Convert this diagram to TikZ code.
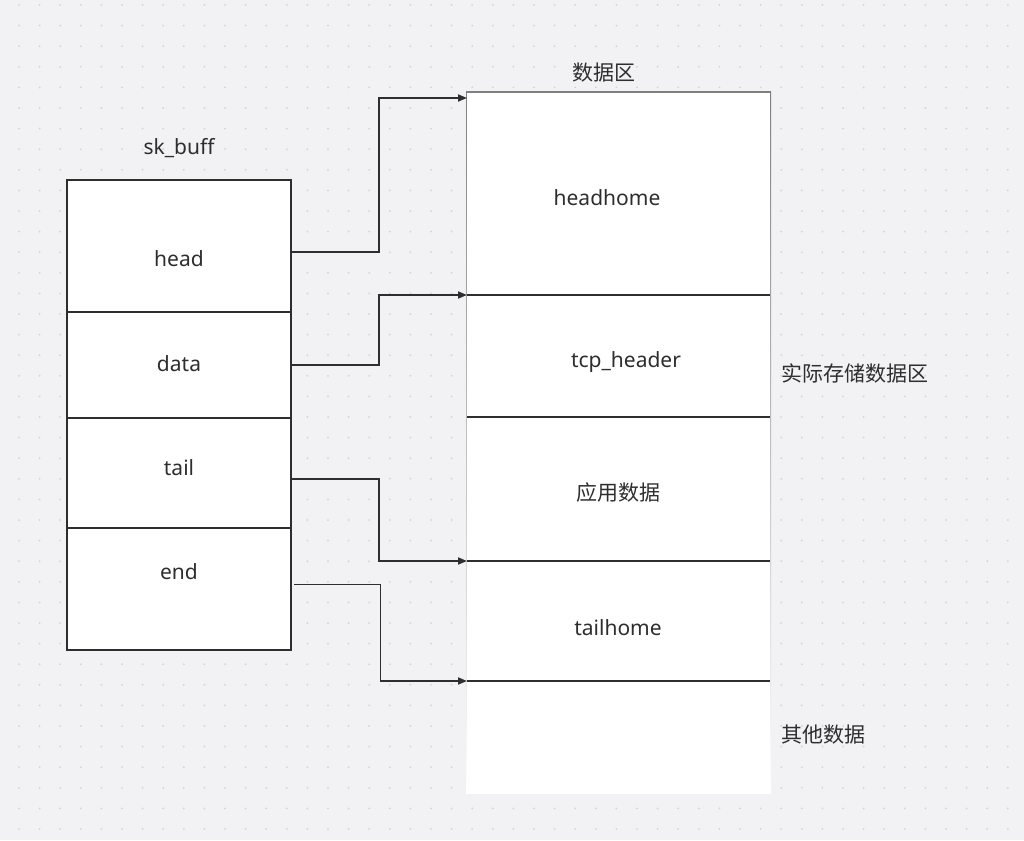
\documentclass[tikz,border=0pt]{standalone}
\usepackage{fontspec}
\setmainfont{Noto Sans}
\newfontfamily\cjk{Noto Sans CJK SC}
\usetikzlibrary{arrows.meta,calc}
\definecolor{bg}{HTML}{F2F2F4}
\definecolor{dotc}{HTML}{D4D4D8}
\definecolor{ink}{HTML}{2E2E2E}
\definecolor{shade}{HTML}{EAEAED}
\tikzset{
  cell/.style={draw=ink, line width=2pt, fill=white, minimum width=224pt, inner sep=0pt, outer sep=0pt},
  rcell/.style={fill=white, minimum width=303pt, inner sep=0pt, outer sep=0pt},
  txt/.style={text=ink, font=\fontsize{21}{25}\selectfont, inner sep=0pt},
  ctxt/.style={text=ink, font=\cjk\fontsize{21}{25}\selectfont, inner sep=0pt},
  divider/.style={draw=ink, line width=2.6pt},
  conn/.style={draw=ink, line width=1.7pt, -{Triangle[length=9pt,width=7pt]}},
}
\begin{document}
\begin{tikzpicture}[x=1pt,y=-1pt]
\useasboundingbox (0,0) rectangle (1024,840);
\fill[bg] (0,0) rectangle (1024,840);
\foreach \i in {0,...,49}{
  \foreach \j in {0,...,40}{
    \fill[dotc] (19+20.6*\i,5+20.6*\j) circle (1pt);
  }
}
% data area
\fill[shade] (466,92) rectangle (771,793.5);
\node[rcell, minimum height=202pt] (rhead) at (618.5,194) {};
\node[rcell, minimum height=122pt] (rtcp) at (618.5,356) {};
\node[rcell, minimum height=144pt] (rapp) at (618.5,489) {};
\node[rcell, minimum height=120pt] (rtail) at (618.5,621) {};
\node[rcell, minimum height=111pt] (rother) at (618.5,736.5) {};
\draw[divider] (rtcp.north west) -- (rtcp.north east);
\draw[divider] (rapp.north west) -- (rapp.north east);
\draw[divider] (rtail.north west) -- (rtail.north east);
\draw[divider] (rother.north west) -- (rother.north east);
\node[txt] (lheadhome) at (607,198) {headhome};
\node[txt] (ltcp) at (626,362) {tcp\_header};
\node[ctxt] (lapp) at (618,493) {应用数据};
\node[txt] (ltailhome) at (618,628) {tailhome};
\node[ctxt] (ldata) at (604,73) {数据区};
\node[ctxt, anchor=west] (lreal) at (781,373) {实际存储数据区};
\node[ctxt, anchor=west] (lother) at (781,735) {其他数据};
% sk_buff
\node[txt] (lsk) at (179,148) {sk\_buff};
\node[cell, minimum height=132pt] (head) at (179,246) {};
\node[cell, minimum height=106pt] (data) at (179,365) {};
\node[cell, minimum height=110pt] (tail) at (179,472.5) {};
\node[cell, minimum height=122pt] (end) at (179,588.5) {};
\node[txt] (lhead) at (179,259) {head};
\node[txt] (ldat) at (179,364) {data};
\node[txt] (ltail) at (179,468) {tail};
\node[txt] (lend) at (179,572) {end};
% connectors
\coordinate (hs) at ($(head.east)+(0,6)$);
\coordinate (ds) at ($(data.east)+(0,0)$);
\coordinate (ts) at ($(tail.east)+(0,6.5)$);
\coordinate (es) at ($(end.east)+(3,-4)$);
\draw[conn] (hs) -- ++(88,0) |- ($(rhead.north west)+(0,5)$);
\draw[conn] (ds) -- ++(88,0) |- (rtcp.north west);
\draw[conn] (ts) -- ++(88,0) |- (rtail.north west);
\draw[conn] (es) -- ++(86.5,0) |- (rother.north west);
\end{tikzpicture}
\end{document}
